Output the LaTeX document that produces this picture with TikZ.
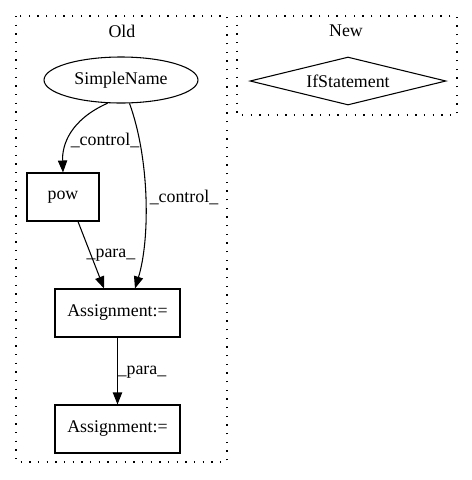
\documentclass[tikz,border=0pt]{standalone}
\usepackage{fontspec}
\setmainfont{Liberation Serif}
\usetikzlibrary{shapes.geometric,arrows.meta}
\begin{document}
\begin{tikzpicture}[x=0.75pt,y=-0.75pt,line width=0.8pt,
  every node/.style={font=\fontsize{13.4}{15}\selectfont},
  cluster/.style={draw,line width=0.9pt,dash pattern=on 0.9pt off 5.6pt},
  boxnode/.style={draw,rectangle,minimum width=#1*0.75pt,minimum height=36pt,inner sep=0pt},
  ell/.style={draw,ellipse,minimum width=115.5pt,minimum height=34.5pt,inner sep=0pt},
  dia/.style={draw,diamond,aspect=4,minimum width=147pt,minimum height=36pt,inner sep=0pt},
  edge/.style={draw,-{Triangle[length=9pt,width=7pt]},line width=0.8pt},
  lbl/.style={inner sep=1pt}]
\useasboundingbox (0,0) rectangle (472,480);
\draw[cluster] (16,16) rectangle (227,462);
\draw[cluster] (237,16) rectangle (457,115);
\node (oldl) at (122,31) {Old};
\node (newl) at (346,31) {New};
\node[ell] (sn) at (121,80) {SimpleName};
\node[boxnode=72] (pow) at (63,197) {pow};
\node[boxnode=125] (a1) at (117.5,313) {Assignment:=};
\node[boxnode=125] (a2) at (117.5,429) {Assignment:=};
\node[dia] (ifs) at (348,81) {IfStatement};
\draw[edge] (sn.240) .. controls (70,120) and (62,145) .. (pow.north);
\node[lbl] (l1) at (105,140) {\_control\_};
\draw[edge] (sn.290) .. controls (150,160) and (150,240) .. (a1.north east -| 135,0);
\node[lbl] (l2) at (184,197) {\_control\_};
\draw[edge] (pow.south east -| 78,0) -- (a1.north -| 104,0);
\node[lbl] (l3) at (111,255) {\_para\_};
\draw[edge] (a1) -- (a2);
\node[lbl] (l4) at (142,372) {\_para\_};
\end{tikzpicture}
\end{document}
